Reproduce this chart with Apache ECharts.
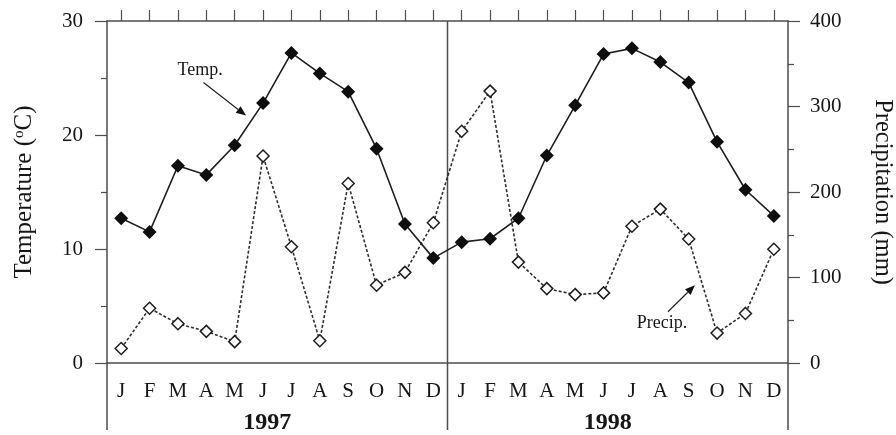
<!DOCTYPE html>
<html>
<head>
<meta charset="utf-8">
<script src="https://cdn.jsdelivr.net/npm/echarts@6/dist/echarts.min.js"></script>
<style>
  html, body { margin: 0; padding: 0; background: #fff; }
  #chart { width: 896px; height: 435px; }
</style>
</head>
<body>
<div id="chart"></div>
<script>
// Monthly mean temperature (°C) and precipitation (mm), 1997–1998
const months = ['J', 'F', 'M', 'A', 'M', 'J', 'J', 'A', 'S', 'O', 'N', 'D'];
const years = ['1997', '1998'];
const temperature = [
  12.7, 11.5, 17.3, 16.5, 19.1, 22.8, 27.2, 25.4, 23.8, 18.8, 12.2, 9.2,
  10.6, 10.9, 12.7, 18.2, 22.6, 27.1, 27.6, 26.4, 24.6, 19.4, 15.2, 12.9
];
const precipitation = [
  17, 64, 46, 37, 25, 242, 136, 26, 210, 91, 106, 164,
  271, 318, 118, 87, 80, 82, 160, 180, 145, 35, 58, 133
];
const tempTicks = [0, 30, 10];      // min, max, interval
const precipTicks = [0, 400, 100];  // min, max, interval

const categories = years.flatMap(() => months);
const serif = '"Liberation Serif", "Times New Roman", serif';
const ink = '#161616';
const axisGray = '#4d4d4d';
const axisLineStyle = { color: axisGray, width: 1.5 };
const tickStyle = { color: axisGray, width: 1.2 };

const chart = echarts.init(document.getElementById('chart'), null, { renderer: 'canvas' });

chart.setOption({
  animation: false,
  backgroundColor: '#fff',
  grid: { left: 107, right: 108, top: 21, bottom: 72, outerBoundsMode: 'none', containLabel: false },
  xAxis: [
    {
      type: 'category', data: categories, position: 'bottom', boundaryGap: true,
      axisLine: { onZero: false, lineStyle: axisLineStyle },
      axisTick: { alignWithLabel: true, interval: 0, length: 11, lineStyle: tickStyle },
      axisLabel: { interval: 0, margin: 18, fontFamily: serif, fontSize: 21, color: ink },
      splitLine: { show: false }
    },
    {
      type: 'category', data: categories, position: 'top', boundaryGap: true,
      axisLine: { onZero: false, lineStyle: axisLineStyle },
      axisTick: { show: true, alignWithLabel: true, interval: 0, length: 11, lineStyle: tickStyle },
      axisLabel: { show: true, interval: 0, formatter: () => '' },
      splitLine: { show: false }
    },
    {
      type: 'category', data: years, position: 'bottom', boundaryGap: true,
      axisLine: { show: false, onZero: false }, axisTick: { show: false },
      axisLabel: {
        interval: 0, margin: 48, padding: [0, 20, 0, 0],
        fontFamily: serif, fontSize: 24, fontWeight: 'bold', color: ink
      },
      splitLine: { show: false }
    }
  ],
  yAxis: [
    {
      type: 'value', position: 'left',
      min: tempTicks[0], max: tempTicks[1], interval: tempTicks[2],
      name: 'Temperature ({sup|o}C)', nameLocation: 'middle', nameRotate: 90, nameGap: 70,
      nameTextStyle: {
        fontFamily: serif, fontSize: 25, color: ink,
        rich: { sup: { fontFamily: serif, fontSize: 15, color: ink, verticalAlign: 'top', padding: [0, 0, 10, 0] } }
      },
      axisLine: { show: true, lineStyle: axisLineStyle },
      axisTick: { show: true, length: 12, lineStyle: tickStyle },
      minorTick: { show: true, splitNumber: 2, length: 6, lineStyle: tickStyle },
      axisLabel: { margin: 24, fontFamily: serif, fontSize: 21, color: ink },
      splitLine: { show: false }
    },
    {
      type: 'value', position: 'right',
      min: precipTicks[0], max: precipTicks[1], interval: precipTicks[2],
      name: 'Precipitation (mm)', nameLocation: 'middle', nameRotate: -90, nameGap: 82,
      nameTextStyle: { fontFamily: serif, fontSize: 24.5, color: ink },
      axisLine: { show: true, lineStyle: axisLineStyle },
      axisTick: { show: true, length: 12, lineStyle: tickStyle },
      minorTick: { show: true, splitNumber: 2, length: 6, lineStyle: tickStyle },
      axisLabel: { margin: 22, fontFamily: serif, fontSize: 21, color: ink },
      splitLine: { show: false }
    }
  ],
  series: [
    {
      name: 'Precip.', type: 'line', xAxisIndex: 0, yAxisIndex: 1, data: precipitation,
      symbol: 'diamond', symbolSize: 12, showAllSymbol: true, z: 2,
      lineStyle: { color: '#2e2e2e', width: 1.6, type: [3, 2] },
      itemStyle: { color: '#fff', borderColor: '#1e1e1e', borderWidth: 1.5 }
    },
    {
      name: 'Temp.', type: 'line', xAxisIndex: 0, yAxisIndex: 0, data: temperature,
      symbol: 'diamond', symbolSize: 14, showAllSymbol: true, z: 3,
      lineStyle: { color: '#1e1e1e', width: 1.6 },
      itemStyle: { color: '#0e0e0e' }
    }
  ]
});

// Frame lines below the plot and the divider between the two years
const toPx = (x, y, yAxisIndex) => chart.convertToPixel({ xAxisIndex: 0, yAxisIndex }, [x, y]);
const bottomY = toPx(0, tempTicks[0], 0)[1];
const topY = toPx(0, tempTicks[1], 0)[1];
const step = toPx(1, 0, 0)[0] - toPx(0, 0, 0)[0];
const firstX = toPx(0, 0, 0)[0];
const leftX = firstX - step / 2;
const rightX = firstX + (categories.length - 0.5) * step;
const dividerX = firstX + (months.length - 0.5) * step;
const frameEnd = bottomY + 67;
const frameStyle = { stroke: axisGray, lineWidth: 1.5 };

// Position at a fractional month index (the ordinal scale itself rounds to whole months)
const at = (monthPos, value, yAxisIndex) => [firstX + monthPos * step, toPx(0, value, yAxisIndex)[1]];

function vline(x, y1, y2) {
  return { type: 'line', shape: { x1: x, y1: y1, x2: x, y2: y2 }, style: frameStyle, silent: true };
}

// Annotation: text label with a filled arrow pointing at a series
function arrow(from, to) {
  const dx = to[0] - from[0], dy = to[1] - from[1];
  const len = Math.hypot(dx, dy), ux = dx / len, uy = dy / len;
  const head = 10, half = 4;
  const bx = to[0] - ux * head, by = to[1] - uy * head;
  return [
    { type: 'line', shape: { x1: from[0], y1: from[1], x2: bx, y2: by }, style: { stroke: '#222', lineWidth: 1.2 }, silent: true },
    { type: 'polygon', shape: { points: [to, [bx - uy * half, by + ux * half], [bx + uy * half, by - ux * half]] }, style: { fill: '#111' }, silent: true }
  ];
}
function label(pos, text) {
  return {
    type: 'text', x: pos[0], y: pos[1], silent: true,
    style: { text: text, fontFamily: serif, fontSize: 18, fill: ink, align: 'center', verticalAlign: 'middle' }
  };
}

const tempLabel = at(2.78, 25.7, 0);
const tempArrow = arrow(at(2.9, 24.6, 0), at(4.4, 21.7, 0));
const precipLabel = at(19.06, 47, 1);
const precipArrow = arrow(at(19.27, 60, 1), at(20.22, 91, 1));

chart.setOption({
  graphic: [
    vline(leftX, bottomY, frameEnd),
    vline(rightX, bottomY, frameEnd),
    vline(dividerX, topY, frameEnd),
    label(tempLabel, 'Temp.'),
    ...tempArrow,
    label(precipLabel, 'Precip.'),
    ...precipArrow
  ]
});
</script>
</body>
</html>
